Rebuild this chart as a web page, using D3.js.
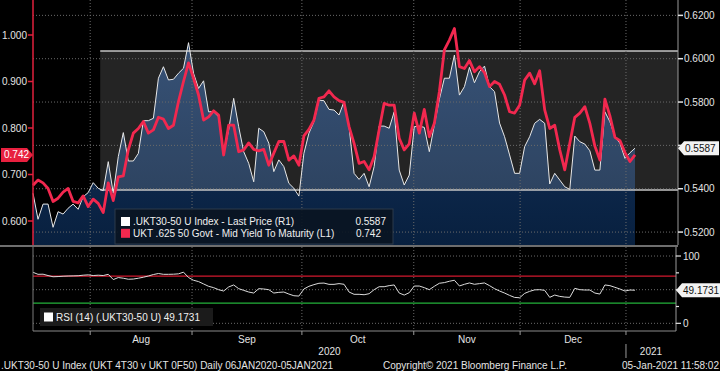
<!DOCTYPE html>
<html lang="en">
<head>
  <meta charset="UTF-8">
  <title>UKT30-50 spread vs UKT 50 yield</title>
  <script src="https://d3js.org/d3.v7.min.js"></script>
  <style>
    html, body {
      margin: 0;
      padding: 0;
      background: #000;
    }
    svg {
      display: block;
      font-family: "Liberation Sans", Arial, sans-serif;
    }
    .lbl {
      font-size: 10px;
      fill: #e4e4e4;
    }
  </style>
</head>
<body>
  <svg width="720" height="371"></svg>
  <script>
    // ---- data (one value per trading day, mid-Jul 2020 .. 05-Jan-2021) ----
    const months = ["Aug", "Sep", "Oct", "Nov", "Dec"];
    // trading-day index at which Aug, Sep, Oct, Nov, Dec, Jan begin
    const monthStart = [11.4, 31.7, 53.6, 75.9, 97.1, 118.2];
    const years = ["2020", "2021"];

    // .UKT30-50 U Index - Last Price (R1)
    const spreadR1 = [
      0.5379, 0.5259, 0.5329, 0.5329, 0.5222, 0.5294, 0.5283, 0.5310, 0.5329, 0.5305,
      0.5363, 0.5382, 0.5428, 0.5402, 0.5391, 0.5525, 0.5379, 0.5548, 0.5659, 0.5528,
      0.5528, 0.5563, 0.5714, 0.5714, 0.5725, 0.5910, 0.5963, 0.5902, 0.5905, 0.5933,
      0.5956, 0.6074, 0.5933, 0.5863, 0.5898, 0.5755, 0.5755, 0.5732, 0.5563, 0.5671,
      0.5817, 0.5686, 0.5571, 0.5517, 0.5432, 0.5679, 0.5663, 0.5610, 0.5479, 0.5533,
      0.5502, 0.5425, 0.5402, 0.5366, 0.5563, 0.5656, 0.5709, 0.5809, 0.5806, 0.5766,
      0.5763, 0.5740, 0.5802, 0.5686, 0.5471, 0.5443, 0.5471, 0.5409, 0.5502, 0.5689,
      0.5689, 0.5679, 0.5755, 0.5486, 0.5417, 0.5463, 0.5686, 0.5689, 0.5683, 0.5571,
      0.5694, 0.5813, 0.5910, 0.5910, 0.6017, 0.5832, 0.5871, 0.5960, 0.5889, 0.5940,
      0.5966, 0.5871, 0.5848, 0.5703, 0.5640, 0.5556, 0.5471, 0.5471, 0.5594, 0.5640,
      0.5702, 0.5720, 0.5702, 0.5422, 0.5471, 0.5440, 0.5409, 0.5397, 0.5643, 0.5617,
      0.5606, 0.5575, 0.5486, 0.5486, 0.5755, 0.5709, 0.5640, 0.5610, 0.5540, 0.5566,
      0.5587
    ];

    // UKT .625 50 Govt - Mid Yield To Maturity (L1)
    const yieldL1 = [
      0.677, 0.688, 0.682, 0.670, 0.642, 0.649, 0.662, 0.670, 0.642, 0.639,
      0.654, 0.631, 0.647, 0.638, 0.618, 0.682, 0.644, 0.695, 0.697, 0.753,
      0.789, 0.799, 0.814, 0.789, 0.796, 0.823, 0.819, 0.799, 0.806, 0.857,
      0.900, 0.940, 0.907, 0.871, 0.817, 0.824, 0.837, 0.828, 0.742, 0.806,
      0.806, 0.749, 0.753, 0.768, 0.754, 0.751, 0.754, 0.720, 0.746, 0.771,
      0.771, 0.731, 0.740, 0.720, 0.783, 0.797, 0.817, 0.864, 0.867, 0.880,
      0.867, 0.859, 0.855, 0.803, 0.767, 0.724, 0.728, 0.710, 0.738, 0.796,
      0.853, 0.849, 0.849, 0.778, 0.753, 0.766, 0.832, 0.789, 0.840, 0.781,
      0.810, 0.878, 0.968, 0.989, 1.014, 0.932, 0.928, 0.945, 0.921, 0.932,
      0.919, 0.889, 0.900, 0.894, 0.871, 0.835, 0.832, 0.849, 0.903, 0.918,
      0.895, 0.923, 0.839, 0.799, 0.806, 0.753, 0.710, 0.767, 0.823, 0.832,
      0.846, 0.810, 0.761, 0.731, 0.862, 0.826, 0.780, 0.773, 0.747, 0.728,
      0.742
    ];

    // RSI (14) (.UKT30-50 U)
    const rsi14 = [
      75.8, 72.8, 73.0, 71.0, 69.2, 69.5, 70.0, 70.3, 70.5, 70.7,
      71.5, 72.0, 71.0, 71.5, 71.0, 72.8, 65.0, 68.0, 67.0, 65.5,
      65.8, 67.0, 68.5, 70.3, 72.5, 74.0, 72.8, 72.8, 73.0, 73.5,
      76.0, 68.0, 64.0, 62.0, 58.5, 55.0, 53.0, 50.0, 48.0, 54.0,
      57.0, 51.5, 49.0, 46.5, 45.0, 51.5, 51.0, 50.0, 45.0, 46.0,
      46.5, 43.5, 41.0, 40.5, 51.0, 55.0, 57.5, 59.5, 59.8, 57.9,
      57.9, 59.0, 58.0, 46.5, 43.1, 43.1, 42.5, 44.0, 50.0, 54.4,
      54.4, 56.0, 57.0, 45.0, 42.0, 45.5, 55.4, 55.4, 53.0, 50.0,
      55.0, 59.5, 60.5, 62.5, 64.0, 55.5, 58.0, 60.0, 58.0, 59.0,
      60.0, 56.0, 51.5, 48.0, 45.0, 41.5, 38.5, 38.0, 44.5, 47.5,
      49.7, 50.0, 49.0, 38.6, 42.0, 40.0, 39.0, 38.6, 52.0, 50.0,
      49.5, 49.5, 45.0, 43.5, 57.0, 56.0, 53.5, 51.0, 48.0, 49.5,
      49.2
    ];

    const leftTicks = [0.6, 0.7, 0.8, 0.9, 1.0];
    const rightTicks = [0.52, 0.54, 0.56, 0.58, 0.60, 0.62];
    const rsiTicks = [0, 100];
    const rsiBands = [70, 30];
    // highlighted range drawn on the R1 scale: [from index, low, high]
    const channel = [13.4, 0.5394, 0.6036];

    // ---- layout ----
    const left = 33, right = 678, mainBottom = 245;
    const rsiTop = 247, rsiBottom = 331, rsiRight = 676;

    const svg = d3.select("svg");

    const x = d3.scaleLinear().domain([0, spreadR1.length - 1]).range([left, 635]);
    const yL = d3.scaleLinear().domain([0.54839, 1.07527]).range([mainBottom, 0]);
    const yR = d3.scaleLinear().domain([0.51403, 0.62709]).range([mainBottom, 0]);
    const yRsi = d3.scaleLinear().domain([-11.4, 113.4]).range([rsiBottom, rsiTop]);

    const defs = svg.append("defs");
    const grad = defs.append("linearGradient")
      .attr("id", "areaFill")
      .attr("x1", 0).attr("y1", 0).attr("x2", 0).attr("y2", 1);
    grad.append("stop").attr("offset", "0%").attr("stop-color", "#163560");
    grad.append("stop").attr("offset", "100%").attr("stop-color", "#08203f");

    // ---- main panel ----
    const main = svg.append("g");

    main.append("path")
      .datum(spreadR1)
      .attr("fill", "url(#areaFill)")
      .attr("d", d3.area()
        .x((d, i) => x(i))
        .y0(mainBottom)
        .y1(d => yR(d)));

    // translucent channel box
    main.append("rect")
      .attr("x", x(channel[0]))
      .attr("y", yR(channel[2]))
      .attr("width", right - x(channel[0]))
      .attr("height", yR(channel[1]) - yR(channel[2]))
      .attr("fill", "#fff")
      .attr("fill-opacity", 0.14);
    [channel[1], channel[2]].forEach(v => {
      main.append("line")
        .attr("x1", x(channel[0])).attr("x2", right)
        .attr("y1", yR(v)).attr("y2", yR(v))
        .attr("stroke", "#c4c4c4")
        .attr("stroke-width", 1.5);
    });

    // dotted grid
    main.selectAll(".hgrid")
      .data(rightTicks)
      .enter().append("line")
      .attr("x1", left).attr("x2", right)
      .attr("y1", d => yR(d)).attr("y2", d => yR(d))
      .attr("stroke", "#6a6a6a")
      .attr("stroke-dasharray", "1,2");
    main.selectAll(".vgrid")
      .data(monthStart)
      .enter().append("line")
      .attr("x1", d => x(d)).attr("x2", d => x(d))
      .attr("y1", 0).attr("y2", mainBottom)
      .attr("stroke", "#6a6a6a")
      .attr("stroke-dasharray", "1,2");

    main.append("path")
      .datum(spreadR1)
      .attr("fill", "none")
      .attr("stroke", "#e8e8e8")
      .attr("stroke-width", 1)
      .attr("d", d3.line().x((d, i) => x(i)).y(d => yR(d)));

    main.append("path")
      .datum(yieldL1)
      .attr("fill", "none")
      .attr("stroke", "#f2284f")
      .attr("stroke-width", 2.8)
      .attr("stroke-linejoin", "round")
      .attr("d", d3.line().x((d, i) => x(i)).y(d => yL(d)));

    // left axis (L1)
    main.append("line")
      .attr("x1", left).attr("x2", left)
      .attr("y1", 0).attr("y2", mainBottom)
      .attr("stroke", "#e0203c").attr("stroke-width", 1.5);
    leftTicks.forEach(t => {
      main.append("line")
        .attr("x1", left - 5).attr("x2", left)
        .attr("y1", yL(t)).attr("y2", yL(t))
        .attr("stroke", "#e0203c").attr("stroke-width", 1.5);
      main.append("text")
        .attr("class", "lbl")
        .attr("x", left - 6)
        .attr("y", yL(t))
        .attr("dy", "0.35em")
        .attr("text-anchor", "end")
        .text(d3.format(".3f")(t));
    });
    const lastL = yieldL1[yieldL1.length - 1];
    main.append("path")
      .attr("d", `M1,${yL(lastL) - 7}H27L${left},${yL(lastL)}L27,${yL(lastL) + 7}H1Z`)
      .attr("fill", "#e8203f");
    main.append("text")
      .attr("class", "lbl")
      .attr("x", 4).attr("y", yL(lastL)).attr("dy", "0.35em")
      .style("fill", "#fff")
      .text(d3.format(".3f")(lastL));

    // right axis (R1); the tick label hidden by the last-value tag is skipped
    const lastR = spreadR1[spreadR1.length - 1];
    main.append("line")
      .attr("x1", right).attr("x2", right)
      .attr("y1", 0).attr("y2", mainBottom)
      .attr("stroke", "#9a9a9a");
    rightTicks.forEach(t => {
      main.append("line")
        .attr("x1", right).attr("x2", right + 5)
        .attr("y1", yR(t)).attr("y2", yR(t))
        .attr("stroke", "#e4e4e4").attr("stroke-width", 1.5);
      if (Math.abs(yR(t) - yR(lastR)) < 14) return;
      main.append("text")
        .attr("class", "lbl")
        .attr("x", right + 6).attr("y", yR(t)).attr("dy", "0.35em")
        .text(d3.format(".4f")(t));
    });
    main.append("path")
      .attr("d", `M${right},${yR(lastR)}L${right + 6},${yR(lastR) - 7}H719V${yR(lastR) + 7}H${right + 6}Z`)
      .attr("fill", "#f2f2f2");
    main.append("text")
      .attr("class", "lbl")
      .attr("x", right + 7).attr("y", yR(lastR)).attr("dy", "0.35em")
      .style("fill", "#111")
      .text(d3.format(".4f")(lastR));

    // legend
    const legend = main.append("g");
    legend.append("rect")
      .attr("x", 115).attr("y", 209).attr("width", 278).attr("height", 35)
      .attr("fill", "#0a1522").attr("fill-opacity", 0.92)
      .attr("stroke", "#2c3a4a");
    const legendRows = [
      { color: "#ffffff", label: ".UKT30-50 U Index - Last Price (R1)", value: d3.format(".4f")(lastR), end: 386 },
      { color: "#f2284f", label: "UKT .625 50 Govt - Mid Yield To Maturity (L1)", value: d3.format(".3f")(lastL), end: 381 }
    ];
    legendRows.forEach((r, i) => {
      const cy = 221.5 + i * 11.8;
      legend.append("rect")
        .attr("x", 121).attr("y", cy - 4.5).attr("width", 9).attr("height", 9)
        .attr("fill", r.color);
      legend.append("text")
        .attr("class", "lbl")
        .attr("x", 133).attr("y", cy).attr("dy", "0.35em")
        .style("fill", "#f0f0f0")
        .text(r.label);
      legend.append("text")
        .attr("class", "lbl")
        .attr("x", r.end).attr("y", cy).attr("dy", "0.35em")
        .attr("text-anchor", "end")
        .style("fill", "#f0f0f0")
        .text(r.value);
    });

    // panel separator
    svg.append("rect")
      .attr("x", 0).attr("y", mainBottom).attr("width", right).attr("height", 2)
      .attr("fill", "#6e6e6e");

    // ---- RSI panel ----
    const rsi = svg.append("g");

    [100, 50, 0].forEach(t => {
      rsi.append("line")
        .attr("x1", left).attr("x2", rsiRight)
        .attr("y1", yRsi(t)).attr("y2", yRsi(t))
        .attr("stroke", "#6a6a6a").attr("stroke-dasharray", "1,2");
    });
    monthStart.forEach(m => {
      rsi.append("line")
        .attr("x1", x(m)).attr("x2", x(m))
        .attr("y1", rsiTop).attr("y2", rsiBottom)
        .attr("stroke", "#6a6a6a").attr("stroke-dasharray", "1,2");
    });

    rsi.append("line")
      .attr("x1", left).attr("x2", rsiRight)
      .attr("y1", yRsi(rsiBands[0])).attr("y2", yRsi(rsiBands[0]))
      .attr("stroke", "#d2182e").attr("stroke-width", 1.2);
    rsi.append("line")
      .attr("x1", left).attr("x2", rsiRight)
      .attr("y1", yRsi(rsiBands[1])).attr("y2", yRsi(rsiBands[1]))
      .attr("stroke", "#23b23a").attr("stroke-width", 1.2);

    rsi.append("path")
      .datum(rsi14)
      .attr("fill", "none")
      .attr("stroke", "#dcdcdc")
      .attr("stroke-width", 1)
      .attr("d", d3.line().x((d, i) => x(i)).y(d => yRsi(d)));

    // frame
    rsi.append("line")
      .attr("x1", left).attr("x2", left)
      .attr("y1", rsiTop).attr("y2", rsiBottom)
      .attr("stroke", "#7a7a7a");
    rsi.append("line")
      .attr("x1", left).attr("x2", rsiRight)
      .attr("y1", rsiBottom).attr("y2", rsiBottom)
      .attr("stroke", "#8a8a8a").attr("stroke-width", 1.2);
    rsi.append("line")
      .attr("x1", rsiRight).attr("x2", rsiRight)
      .attr("y1", rsiTop).attr("y2", rsiBottom)
      .attr("stroke", "#9a9a9a");
    monthStart.forEach(m => {
      rsi.append("line")
        .attr("x1", x(m)).attr("x2", x(m))
        .attr("y1", rsiBottom).attr("y2", rsiBottom + 4)
        .attr("stroke", "#9a9a9a");
    });

    [0, 25, 50, 75, 100].forEach(t => {
      rsi.append("line")
        .attr("x1", rsiRight).attr("x2", rsiRight + (rsiTicks.includes(t) ? 5 : 3))
        .attr("y1", yRsi(t)).attr("y2", yRsi(t))
        .attr("stroke", "#e4e4e4").attr("stroke-width", 1.2);
    });
    rsiTicks.forEach(t => {
      rsi.append("text")
        .attr("class", "lbl")
        .attr("x", rsiRight + 7).attr("y", yRsi(t)).attr("dy", "0.35em")
        .text(t);
    });
    const lastRsi = 49.1731;
    rsi.append("path")
      .attr("d", `M${rsiRight},${yRsi(lastRsi)}L${rsiRight + 6},${yRsi(lastRsi) - 7}H720V${yRsi(lastRsi) + 7}H${rsiRight + 6}Z`)
      .attr("fill", "#f2f2f2");
    rsi.append("text")
      .attr("class", "lbl")
      .attr("x", rsiRight + 7).attr("y", yRsi(lastRsi)).attr("dy", "0.35em")
      .style("fill", "#111")
      .text(lastRsi.toFixed(4));

    rsi.append("rect")
      .attr("x", 40).attr("y", 308).attr("width", 173).attr("height", 18)
      .attr("fill", "#1b1b1b");
    rsi.append("rect")
      .attr("x", 44).attr("y", 312.5).attr("width", 9).attr("height", 9)
      .attr("fill", "#fff");
    rsi.append("text")
      .attr("class", "lbl")
      .attr("x", 56).attr("y", 317).attr("dy", "0.35em")
      .style("fill", "#f0f0f0")
      .text("RSI (14) (.UKT30-50 U) " + lastRsi.toFixed(4));

    // ---- time axis labels ----
    months.forEach((m, i) => {
      svg.append("text")
        .attr("class", "lbl")
        .attr("x", (x(monthStart[i]) + x(monthStart[i + 1])) / 2)
        .attr("y", 343)
        .attr("text-anchor", "middle")
        .text(m);
    });
    svg.append("text")
      .attr("class", "lbl")
      .attr("x", (left + x(monthStart[5])) / 2)
      .attr("y", 355)
      .attr("text-anchor", "middle")
      .text(years[0]);
    svg.append("line")
      .attr("x1", x(monthStart[5])).attr("x2", x(monthStart[5]))
      .attr("y1", 344).attr("y2", 358)
      .attr("stroke", "#9a9a9a");
    svg.append("text")
      .attr("class", "lbl")
      .attr("x", (x(monthStart[5]) + rsiRight) / 2)
      .attr("y", 355)
      .attr("text-anchor", "middle")
      .text(years[1]);

    // footer
    svg.append("text")
      .attr("class", "lbl")
      .attr("x", 1).attr("y", 369)
      .text(".UKT30-50 U Index (UKT 4T30 v UKT 0F50)  Daily 06JAN2020-05JAN2021");
    svg.append("text")
      .attr("class", "lbl")
      .attr("x", 383).attr("y", 369)
      .text("Copyright\u00A9 2021 Bloomberg Finance L.P.");
    svg.append("text")
      .attr("class", "lbl")
      .attr("x", 719).attr("y", 369)
      .attr("text-anchor", "end")
      .text("05-Jan-2021 11:58:02");
  </script>
</body>
</html>
